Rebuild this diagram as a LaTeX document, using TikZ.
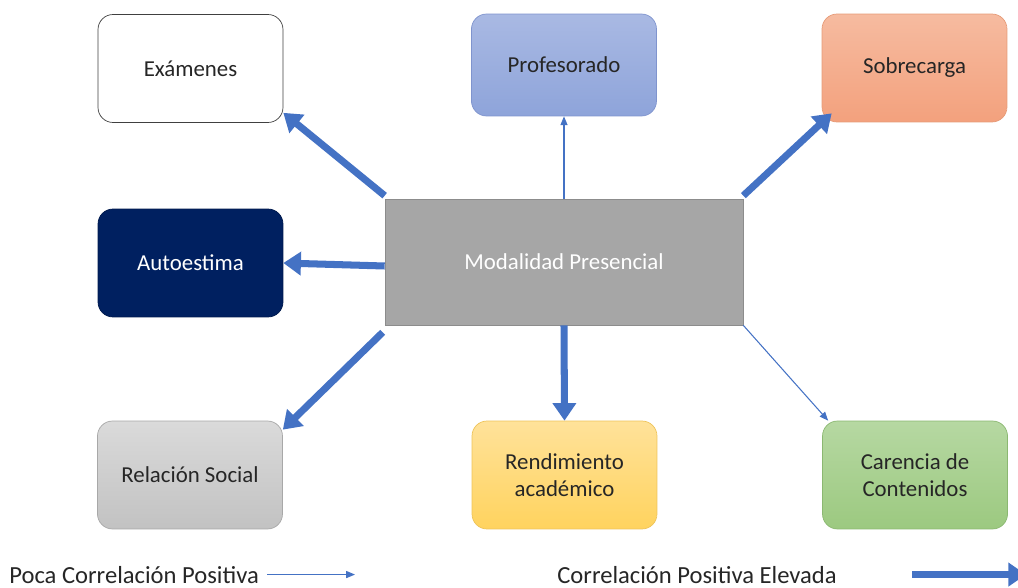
\documentclass[tikz,border=0pt]{standalone}
\usepackage{fontspec}
\setmainfont{Carlito}
\usepackage{xcolor}
\usepackage{tikz}
\usetikzlibrary{arrows.meta,calc}

\definecolor{flecha}{HTML}{4472C4}
\definecolor{marino}{HTML}{002060}
\definecolor{proA}{HTML}{A9B9E3}
\definecolor{proB}{HTML}{8EA4DA}
\definecolor{proC}{HTML}{7F94CE}
\definecolor{sobA}{HTML}{F6BBA0}
\definecolor{sobB}{HTML}{F3A17D}
\definecolor{sobC}{HTML}{E69B78}
\definecolor{relA}{HTML}{DADADA}
\definecolor{relB}{HTML}{C2C2C2}
\definecolor{relC}{HTML}{A8A8A8}
\definecolor{renA}{HTML}{FFE29A}
\definecolor{renB}{HTML}{FFD35E}
\definecolor{renC}{HTML}{EEC45A}
\definecolor{carA}{HTML}{B6D8A2}
\definecolor{carB}{HTML}{9CC980}
\definecolor{carC}{HTML}{8BB871}

\begin{document}
\begin{tikzpicture}[x=0.02cm,y=-0.02cm,
	caja/.style={draw, rounded corners=0.3cm, minimum width=3.7cm, minimum height=2.16cm, inner sep=2pt, align=center, font=\fontsize{13}{15.5}\selectfont, text=black!85},
	fuerte/.style={draw=flecha, line width=4pt, -{Triangle[length=10pt,width=13pt]}},
	debil/.style={draw=flecha, line width=0.6pt, -{Triangle[length=5pt,width=4pt]}},
	leyenda/.style={anchor=base west, inner sep=0pt, font=\fontsize{14}{16}\selectfont, text=black!85}]

	\useasboundingbox (0,0) rectangle (1018,588);

	\node[caja, draw=black!75, fill=white] (exa) at (190.5,68.5) {Exámenes};
	\node[caja, draw=proC, top color=proA, bottom color=proB, minimum height=2.04cm] (pro) at (564,65) {Profesorado};
	\node[caja, draw=sobC, top color=sobA, bottom color=sobB] (sob) at (914.5,68) {Sobrecarga};
	\node[caja, draw=marino!80!black, fill=marino, text=white] (aut) at (190.5,263) {Autoestima};
	\node[draw=black!45, fill=black!35, minimum width=7.16cm, minimum height=2.52cm, font=\fontsize{13}{15.5}\selectfont, text=white] (mp) at (564,262) {Modalidad Presencial};
	\node[caja, draw=relC, top color=relA, bottom color=relB] (rel) at (190,475) {Relación Social};
	\node[caja, draw=renC, top color=renA, bottom color=renB] (ren) at (564.5,475) {Rendimiento\\académico};
	\node[caja, draw=carC, top color=carA, bottom color=carB] (car) at (915,475) {Carencia de\\Contenidos};

	\draw[fuerte] ($(mp.north west)+(0,-3)$) -- ($(exa.south east)+(0,-10)$);
	\draw[debil] (mp.north) -- (pro.south);
	\draw[fuerte] ($(mp.north east)+(0,-3)$) -- ($(sob.south west)+(10,-9)$);
	\draw[fuerte] ($(mp.west)+(0,4)$) -- (aut.east);
	\draw[fuerte] ($(mp.south west)+(-2,7)$) -- ($(rel.north east)+(0,9)$);
	\draw[fuerte] (mp.south) -- (ren.north);
	\draw[debil] (mp.south east) -- ($(car.north west)+(6,0)$);

	\node[leyenda] (poca) at (9,583) {Poca Correlación Positiva};
	\coordinate (pocafin) at (355,0);
	\draw[debil] ($(poca.east)+(8,0)$) -- (poca.east -| pocafin);
	\node[leyenda] (elev) at (557,583) {Correlación Positiva Elevada};
	\coordinate (elevini) at (912,0);
	\coordinate (elevfin) at (1026,0);
	\draw[fuerte] (elev.east -| elevini) -- (elev.east -| elevfin);
\end{tikzpicture}
\end{document}
